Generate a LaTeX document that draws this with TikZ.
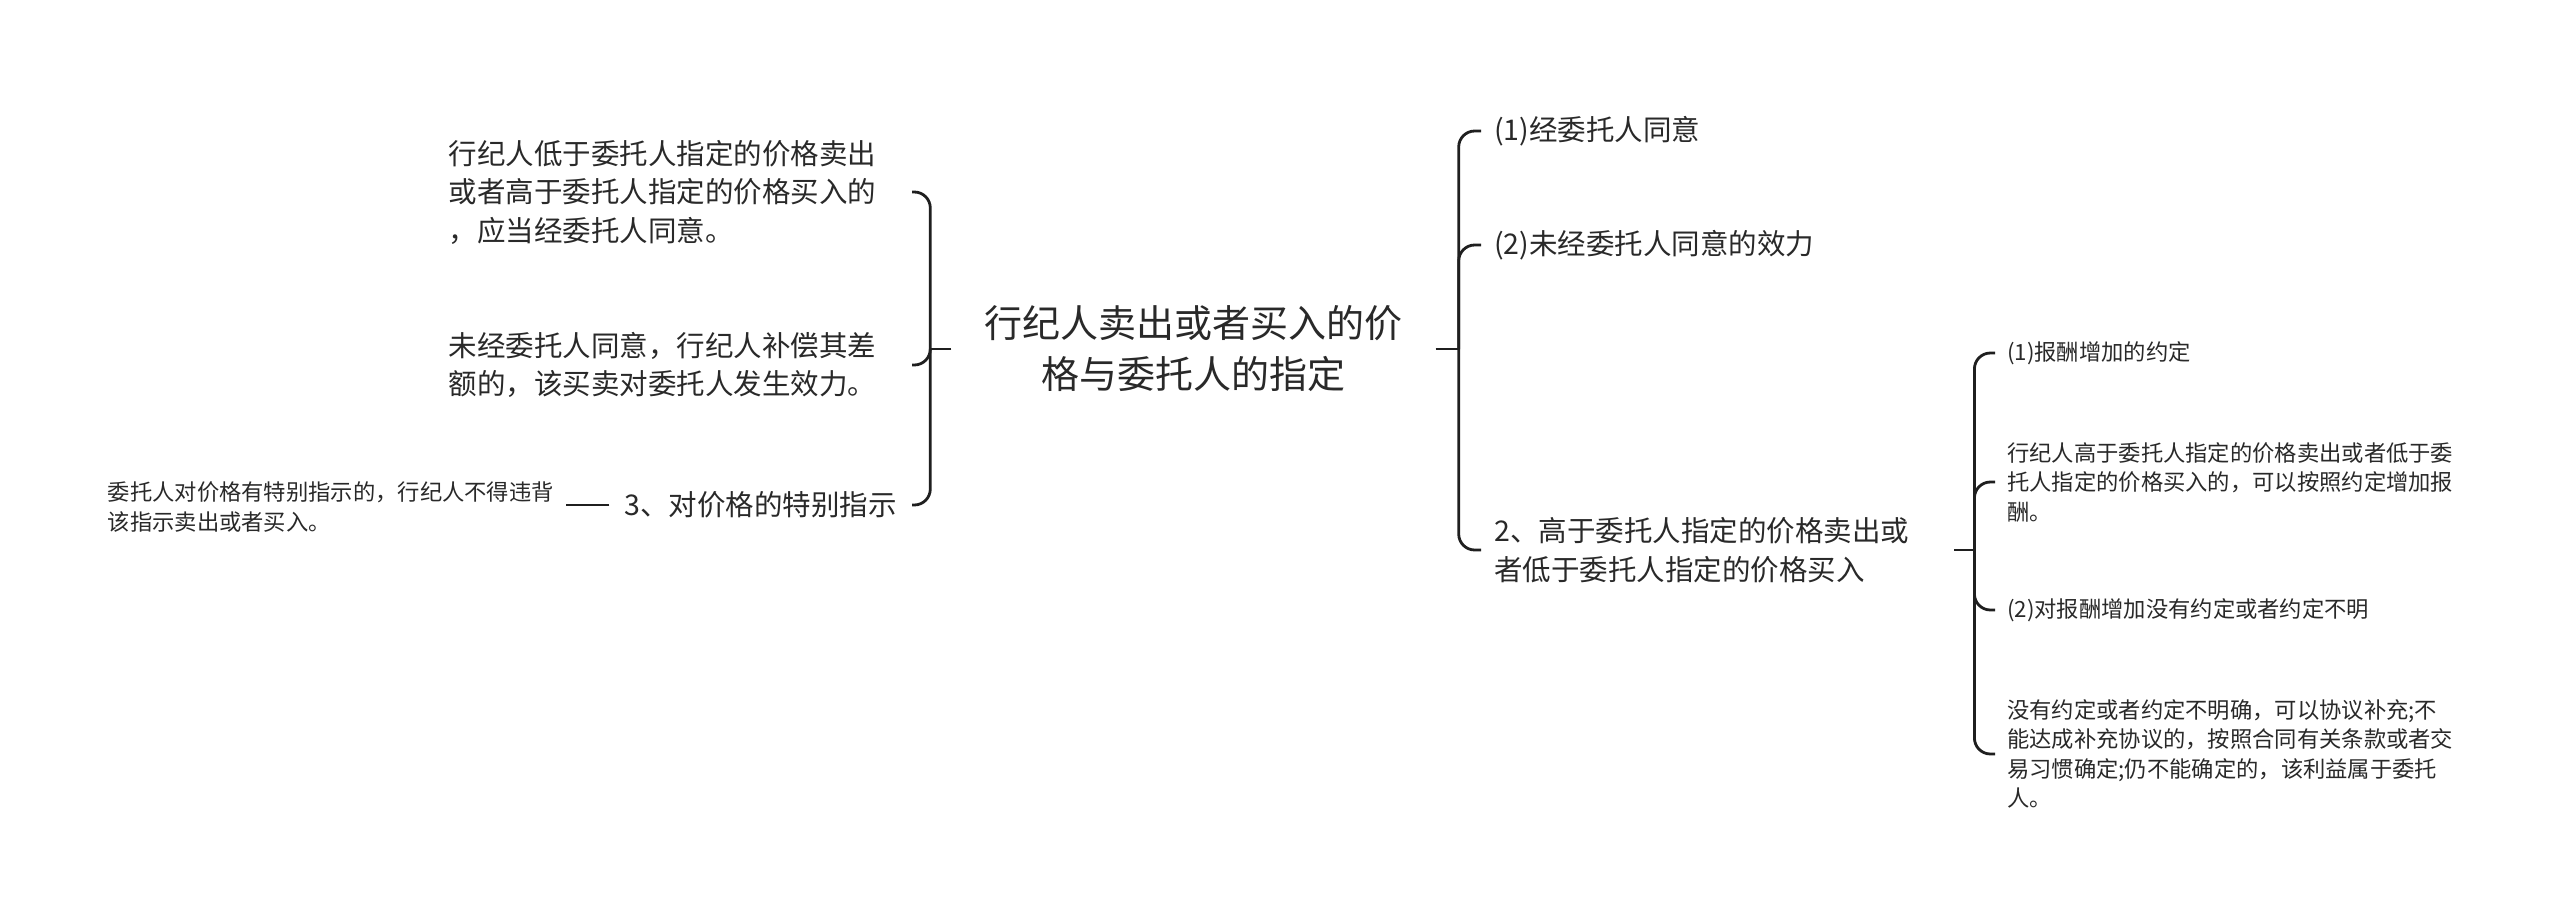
\documentclass[tikz,border=0pt]{standalone}
\usepackage{fontspec}
\setmainfont{Noto Sans CJK SC}
\definecolor{txt}{rgb}{0.16,0.16,0.16}
\definecolor{ln}{rgb}{0.12,0.12,0.12}
\tikzset{
  base/.style={inner ysep=3pt, text=txt, align=left},
  central/.style={base, inner xsep=33pt, align=center, font=\fontsize{38}{51}\selectfont},
  mid/.style={base, inner xsep=13pt, font=\fontsize{28.5}{38.5}\selectfont},
  small/.style={base, inner xsep=12pt, font=\fontsize{22.3}{29.5}\selectfont},
  conn/.style={draw=ln, line width=2.8pt},
  branch/.style={conn, rounded corners=16pt},
}
\begin{document}
\begin{tikzpicture}[x=1pt,y=-1pt]
\useasboundingbox[fill=white] (0,0) rectangle (2560,913);

% central
\node[central] (c) at (1193.5,349) {行纪人卖出或者买入的价\\格与委托人的指定};

% left side
\node[mid, anchor=east, text width=450pt] (l1) at (912,192) {行纪人低于委托人指定的价格卖出\\或者高于委托人指定的价格买入的\\，应当经委托人同意。};
\node[mid, anchor=east, text width=450pt] (l2) at (912,365) {未经委托人同意，行纪人补偿其差\\额的，该买卖对委托人发生效力。};
\node[mid, anchor=east, inner xsep=15pt] (l3) at (912,505) {3、对价格的特别指示};
\node[small, anchor=east] (l4) at (566,507) {委托人对价格有特别指示的，行纪人不得违背\\该指示卖出或者买入。};

% right side
\node[mid, anchor=west] (r1) at (1481,131) {(1)经委托人同意};
\node[mid, anchor=west] (r2) at (1481,245) {(2)未经委托人同意的效力};
\node[mid, anchor=west, text width=447pt] (r3) at (1481,550) {2、高于委托人指定的价格卖出或\\者低于委托人指定的价格买入};

% far right
\node[small, anchor=west] (a1) at (1995,353) {(1)报酬增加的约定};
\node[small, anchor=west] (a2) at (1995,482) {行纪人高于委托人指定的价格卖出或者低于委\\托人指定的价格买入的，可以按照约定增加报\\酬。};
\node[small, anchor=west] (a3) at (1995,610) {(2)对报酬增加没有约定或者约定不明};
\node[small, anchor=west] (a4) at (1995,754) {没有约定或者约定不明确，可以协议补充;不\\能达成补充协议的，按照合同有关条款或者交\\易习惯确定;仍不能确定的，该利益属于委托\\人。};

% connectors: left
\draw[conn] (c.west) -- ++(-21,0) coordinate (Lt);
\draw[branch] (Lt) |- (l1.east);
\draw[branch] (Lt) |- (l2.east);
\draw[branch] (Lt) |- (l3.east);
\draw[conn] (l3.west) -- (l3.west -| l4.east);

% connectors: right
\draw[conn] (c.east) -- ++(23,0) coordinate (Rt);
\draw[branch] (Rt) |- (r1.west);
\draw[branch] (Rt) |- (r2.west);
\draw[branch] (Rt) |- (r3.west);

% connectors: far right
\draw[conn] (r3.east) -- ++(20,0) coordinate (RRt);
\draw[branch] (RRt) |- (a1.west);
\draw[branch] (RRt) |- (a2.west);
\draw[branch] (RRt) |- (a3.west);
\draw[branch] (RRt) |- (a4.west);
\end{tikzpicture}
\end{document}
